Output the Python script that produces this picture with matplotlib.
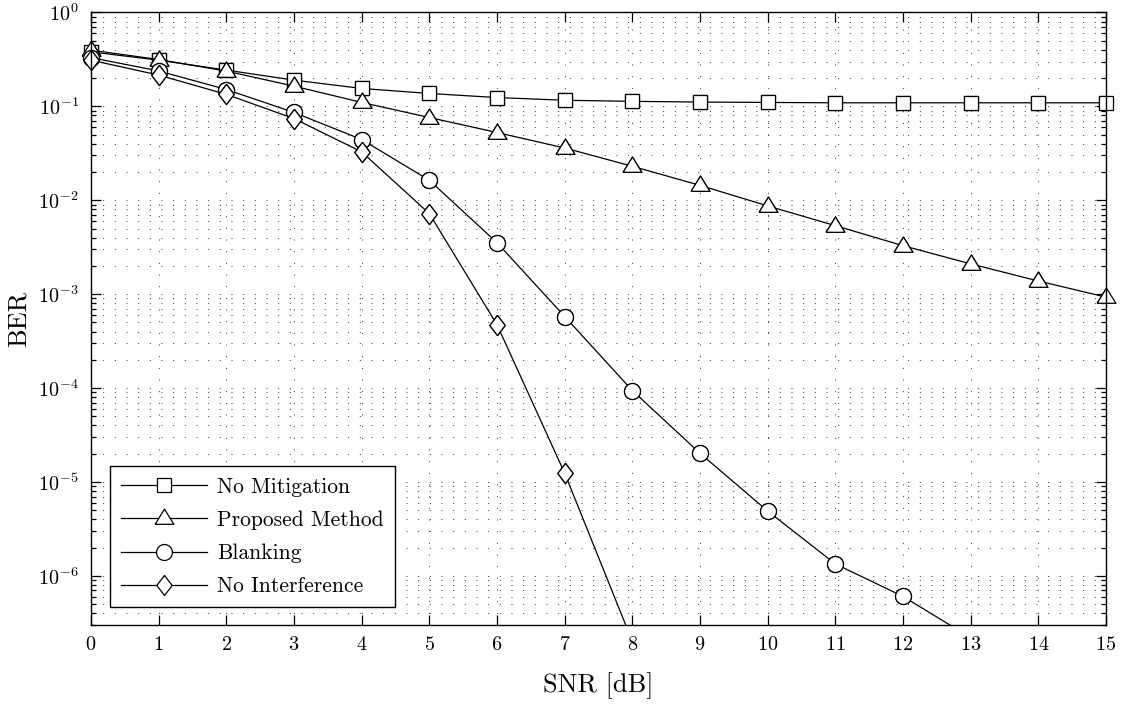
import numpy as np
import matplotlib
matplotlib.use('Agg')
import matplotlib.pyplot as plt
from matplotlib.ticker import LogLocator, NullFormatter, MultipleLocator

plt.rcParams['font.family'] = ['cmr10', 'DejaVu Serif']
plt.rcParams['mathtext.fontset'] = 'cm'
plt.rcParams['axes.formatter.use_mathtext'] = True

# SNR axis (dB)
snr = [0, 1, 2, 3, 4, 5, 6, 7, 8, 9, 10, 11, 12, 13, 14, 15]

# BER values
ber_no_mitigation = [0.38, 0.31, 0.243, 0.19, 0.155, 0.137, 0.124, 0.116,
                     0.113, 0.111, 0.110, 0.109, 0.109, 0.109, 0.109, 0.109]
ber_proposed = [0.396, 0.315, 0.237, 0.164, 0.11, 0.076, 0.0526, 0.036,
                0.023, 0.0144, 0.0087, 0.00536, 0.00328, 0.0021, 0.00138, 0.00093]
ber_blanking = [0.33, 0.238, 0.151, 0.086, 0.0443, 0.0163, 0.00353, 0.000578,
                9.4e-5, 2.02e-5, 4.9e-6, 1.34e-6, 6.04e-7, 2.2e-7]
ber_no_interference = [0.31, 0.215, 0.134, 0.074, 0.0327, 0.0072, 0.000472,
                       1.24e-5, 2e-7]

labels = ['No Mitigation', 'Proposed Method', 'Blanking', 'No Interference']

ymin, ymax = 3e-7, 1.0

# MATLAB-like markers: wide triangle, tall diamond
tri = [(-1, -0.62), (1, -0.62), (0, 1.0), (-1, -0.62)]
dia = [(0, 1), (0.76, 0), (0, -1), (-0.76, 0), (0, 1)]
styles = [('s', 9.6), (tri, 13.5), ('o', 11.5), (dia, 14.5)]

fig = plt.figure(figsize=(11.24, 7.09), dpi=100)
ax = fig.add_axes([0.081, 0.1185, 0.903, 0.864])

series = [ber_no_mitigation, ber_proposed, ber_blanking, ber_no_interference]
for ber, lab, (mk, ms) in zip(series, labels, styles):
    x = np.array(snr[:len(ber)])
    y = np.array(ber)
    ax.plot(x, y, color='k', lw=0.9, marker=mk, ms=ms, mfc='white',
            mec='k', mew=0.9, label=lab)
    # markers are not clipped at the box (as in MATLAB)
    keep = y >= ymin
    ax.plot(x[keep], y[keep], ls='none', marker=mk, ms=ms, mfc='white',
            mec='k', mew=0.9, clip_on=False)

ax.set_yscale('log')
ax.set_xlim(0, 15)
ax.set_ylim(ymin, ymax)
ax.xaxis.set_major_locator(MultipleLocator(1))
ax.set_yticks(10.0 ** np.arange(-6, 1))
ax.yaxis.set_minor_locator(LogLocator(base=10, subs=np.arange(2, 10), numticks=20))
ax.yaxis.set_minor_formatter(NullFormatter())

dots = (0, (1, 11))
ax.grid(True, which='major', axis='both', color='0.2', lw=0.7, ls=dots)
ax.grid(True, which='minor', axis='y', color='0.2', lw=0.7, ls=dots)
ax.set_axisbelow(True)

ax.tick_params(which='both', direction='in', top=True, right=True,
               width=0.9, labelsize=14.5)
ax.tick_params(which='major', length=7)
ax.tick_params(which='minor', length=3.6)
ax.tick_params(axis='y', pad=9)
ax.tick_params(axis='x', pad=8)
for sp in ax.spines.values():
    sp.set_linewidth(1.0)

ax.set_xlabel('SNR [dB]', fontsize=19, labelpad=13)
ax.set_ylabel('BER', fontsize=19, labelpad=5)

leg = ax.legend(loc='lower left', bbox_to_anchor=(0.0185, 0.029),
                fontsize=15.5, handlelength=4.0, fancybox=False,
                edgecolor='k', framealpha=1, borderaxespad=0,
                borderpad=0.5, labelspacing=0.64, handletextpad=0.5)
leg.get_frame().set_linewidth(1.0)

fig.savefig('out.png', dpi=100)
